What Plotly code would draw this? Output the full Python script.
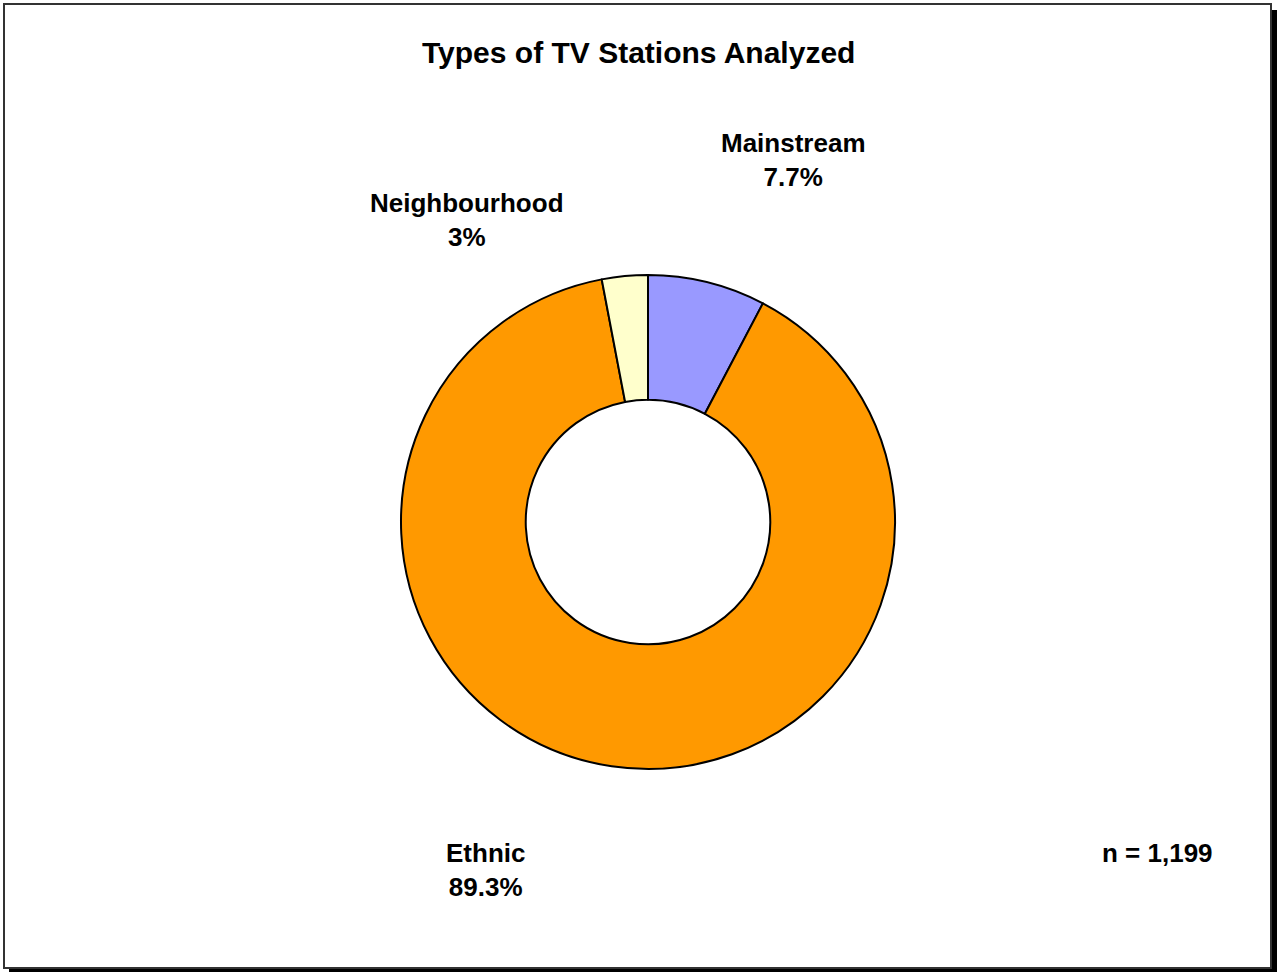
import plotly.graph_objects as go

# Station categories and their share of the sample (%)
categories = ["Mainstream", "Ethnic", "Neighbourhood"]
shares = [7.7, 89.3, 3.0]
slice_colors = ["#9999FF", "#FF9900", "#FFFFCC"]
sample_size = 1199

W, H = 1277, 972


def px_x(x):
    return x / W


def px_y(y):
    return 1 - y / H


def fmt_share(v):
    return f"{v:g}%"


# Donut geometry in pixels
cx, cy, r = 648, 522, 247

fig = go.Figure(
    go.Pie(
        labels=categories,
        values=shares,
        sort=False,
        direction="clockwise",
        rotation=0,
        hole=0.495,
        marker=dict(colors=slice_colors, line=dict(color="#000000", width=2)),
        textinfo="none",
        hoverinfo="label+percent",
        showlegend=False,
        domain=dict(x=[px_x(cx - r), px_x(cx + r)], y=[px_y(cy + r), px_y(cy - r)]),
    )
)

# Outside label positions (pixel centres)
label_pos = {
    "Mainstream": (793, 160),
    "Neighbourhood": (467, 220),
    "Ethnic": (485, 870),
}

font_family = "Arial, Liberation Sans, sans-serif"
annotations = []
for name, val in zip(categories, shares):
    lx, ly = label_pos[name]
    annotations.append(
        dict(
            x=px_x(lx), y=px_y(ly), xref="paper", yref="paper",
            xanchor="center", yanchor="middle", showarrow=False,
            text=f"<b>{name}<br>{fmt_share(val)}</b>",
            font=dict(family=font_family, size=26, color="#000000"),
        )
    )

annotations.append(
    dict(
        x=px_x(1157), y=px_y(853), xref="paper", yref="paper",
        xanchor="center", yanchor="middle", showarrow=False,
        text=f"<b>n = {sample_size:,}</b>",
        font=dict(family=font_family, size=26, color="#000000"),
    )
)

annotations.append(
    dict(
        x=px_x(638), y=px_y(53), xref="paper", yref="paper",
        xanchor="center", yanchor="middle", showarrow=False,
        text="<b>Types of TV Stations Analyzed</b>",
        font=dict(family=font_family, size=30, color="#000000"),
    )
)

# Chart frame with drop shadow
shapes = [
    dict(type="rect", xref="paper", yref="paper", layer="below",
         x0=px_x(9), x1=px_x(1277), y0=px_y(972), y1=px_y(10),
         fillcolor="#000000", line=dict(width=0)),
    dict(type="rect", xref="paper", yref="paper", layer="below",
         x0=px_x(4), x1=px_x(1271), y0=px_y(968), y1=px_y(4),
         fillcolor="#FFFFFF", line=dict(color="#333333", width=2)),
]

fig.update_layout(
    width=W, height=H,
    margin=dict(l=0, r=0, t=0, b=0),
    paper_bgcolor="#FFFFFF",
    plot_bgcolor="#FFFFFF",
    annotations=annotations,
    shapes=shapes,
)

fig.write_html("out.html")
